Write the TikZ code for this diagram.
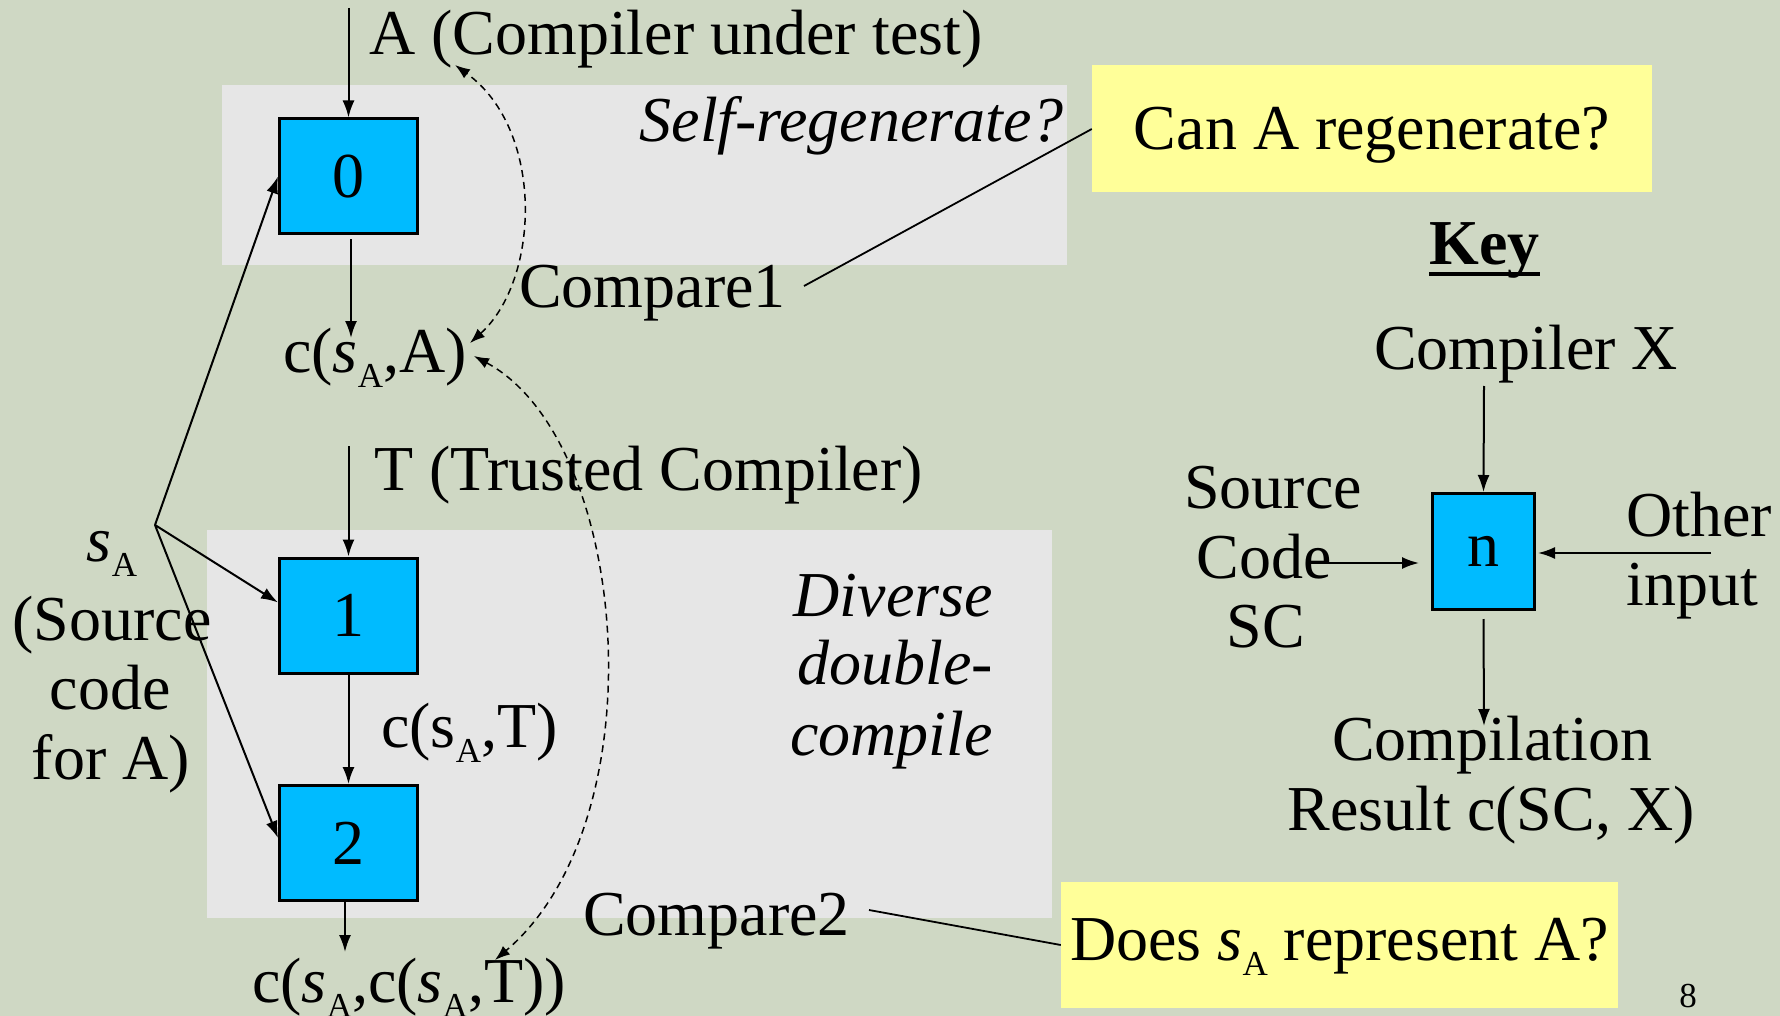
\documentclass[tikz,border=0pt]{standalone}
\usepackage{fontspec}
\setmainfont{Liberation Serif}
\usetikzlibrary{arrows.meta}
\definecolor{bgc}{RGB}{207,216,196}
\definecolor{bandc}{RGB}{230,230,230}
\definecolor{boxc}{RGB}{0,187,255}
\definecolor{noteY}{RGB}{255,255,153}
\newcommand{\subA}{\raisebox{-15pt}{\fontsize{35}{35}\selectfont A}}
\begin{document}
\begin{tikzpicture}[x=1pt,y=-1pt,
 txt/.style={font=\fontsize{64}{70}\selectfont, inner sep=0pt},
 itxt/.style={inner sep=0pt, font=\fontsize{64}{70}\selectfont\itshape},
 cbox/.style={draw=black, line width=3pt, fill=boxc, minimum width=138pt, minimum height=115pt, inner sep=0pt, font=\fontsize{64}{70}\selectfont},
 note/.style={fill=noteY, inner sep=0pt, font=\fontsize{64}{70}\selectfont},
 flow/.style={line width=2pt, -{Latex[length=17pt,width=12pt]}},
 cmp/.style={line width=1.5pt, dash pattern=on 7pt off 5pt, {Latex[length=15pt,width=11pt]}-{Latex[length=15pt,width=11pt]}},
 lead/.style={line width=1.8pt}
]
\useasboundingbox (0,0) rectangle (1780,1016);
\fill[bgc] (0,0) rectangle (1780,1016);
\fill[bandc] (222,85) rectangle (1067,265);
\fill[bandc] (207,530) rectangle (1052,918);

% boxes
\node[cbox] (b0) at (348.5,176.5) {0};
\node[cbox] (b1) at (348.5,615.5) {1};
\node[cbox] (b2) at (348.5,843) {2};
\node[cbox, minimum width=102pt, minimum height=116pt] (bn) at (1483.5,551.5) {n};

% texts
\node[txt, anchor=base west] (tA) at (369,55) {A (Compiler under test)};
\node[itxt, anchor=base east] (tSelf) at (1064,142) {Self-regenerate?};
\node[txt, anchor=base west] (tCmp1) at (519,308) {Compare1};
\node[txt, anchor=base west] (tcA) at (283,372) {c(\textit{s}\subA,A)};
\node[txt, anchor=base west] (tT) at (374,490) {T (Trusted Compiler)};
\node[txt, anchor=base west] (tcT) at (381,747) {c(s\subA,T)};
\node[txt, anchor=base west] (tcc) at (252,1002) {c(\textit{s}\subA,c(\textit{s}\subA,T))};
\node[txt, anchor=base west] (tCmp2) at (583,935) {Compare2};
\node[itxt, anchor=base east] (tDiv1) at (993,616) {Diverse};
\node[itxt, anchor=base east] (tDiv2) at (993,684) {double-};
\node[itxt, anchor=base east] (tDiv3) at (993,755) {compile};
\node[txt, anchor=base] (tsA) at (112,561) {\textit{s}\subA};
\node[txt, anchor=base] (tSrc1) at (112,640) {(Source};
\node[txt, anchor=base] (tSrc2) at (110,709) {code};
\node[txt, anchor=base] (tSrc3) at (111,779) {for A)};

% notes
\node[note, minimum width=560pt, minimum height=127pt, text height=50pt, text depth=8pt] (q1) at (1372,129) {Can A regenerate?};
\node[note, minimum width=557pt, minimum height=126pt, text height=45pt, text depth=15pt] (q2) at (1339.5,945) {Does \textit{s}\subA{} represent A?};

% key
\node[inner sep=0pt, font=\fontsize{64}{70}\selectfont\bfseries, anchor=base] (tKey) at (1484.5,265) {Key};
\draw[line width=4.5pt] ([yshift=-9pt]tKey.base west) -- ([yshift=-9pt]tKey.base east);
\node[txt, anchor=base] (tX) at (1526,369) {Compiler X};
\node[txt, anchor=base] (tS1) at (1273,508) {Source};
\node[txt, anchor=base] (tS2) at (1264,578) {Code};
\node[txt, anchor=base] (tS3) at (1266,647) {SC};
\node[txt, anchor=base west] (tO1) at (1626,536) {Other};
\node[txt, anchor=base west] (tO2) at (1626,605) {input};
\node[txt, anchor=base] (tR1) at (1492,760) {Compilation};
\node[txt, anchor=base] (tR2) at (1491,830) {Result c(SC, X)};
\node[inner sep=0pt, font=\fontsize{35}{40}\selectfont, anchor=base] (pg) at (1688,1007) {8};

% coordinates
\coordinate (a0top) at (348.5,8);
\coordinate (cAin) at (351,338);
\coordinate (a1top) at (348.5,446);
\coordinate (ccin) at (345,952);
\coordinate (sj) at (155,525);
\coordinate (xin) at (1484,386);
\coordinate (scout) at (1308,563);
\coordinate (scin) at (1419,563);
\coordinate (oin) at (1711,553);
\coordinate (oend) at (1538,553);
\coordinate (rout) at (1484,726);
\coordinate (c1s) at (804,286);
\coordinate (c2s) at (869,910);
\coordinate (d1a) at (470,343);
\coordinate (d1b) at (455,65);
\coordinate (d2a) at (474,356);
\coordinate (d2b) at (495,960);

% flow arrows
\draw[flow] (a0top) -- (b0.north);
\draw[flow] ([yshift=-4pt]b0.south -| cAin) -- (cAin);
\draw[flow] (a1top) -- (b1.north);
\draw[flow] (b1.south) -- (b2.north);
\draw[flow] (b2.south -| ccin) -- (ccin);
\draw[flow] (sj) -- (b0.west);
\draw[flow] (sj) -- ([yshift=13pt]b1.west);
\draw[flow] (sj) -- ([yshift=5pt]b2.west);

% key arrows
\draw[flow] (xin) -- (bn.north);
\draw[flow] (scout) -- (scin);
\draw[flow] (oin) -- (oend);
\draw[flow] ([yshift=-8pt]bn.south) -- (rout);

% lead lines
\draw[lead] (c1s) -- (q1.west);
\draw[lead] (c2s) -- (q2.west);

% compare curves
\draw[cmp] (d1a) .. controls (540,280) and (545,130) .. (d1b);
\draw[cmp] (d2a) .. controls (630,440) and (660,820) .. (d2b);
\end{tikzpicture}
\end{document}
